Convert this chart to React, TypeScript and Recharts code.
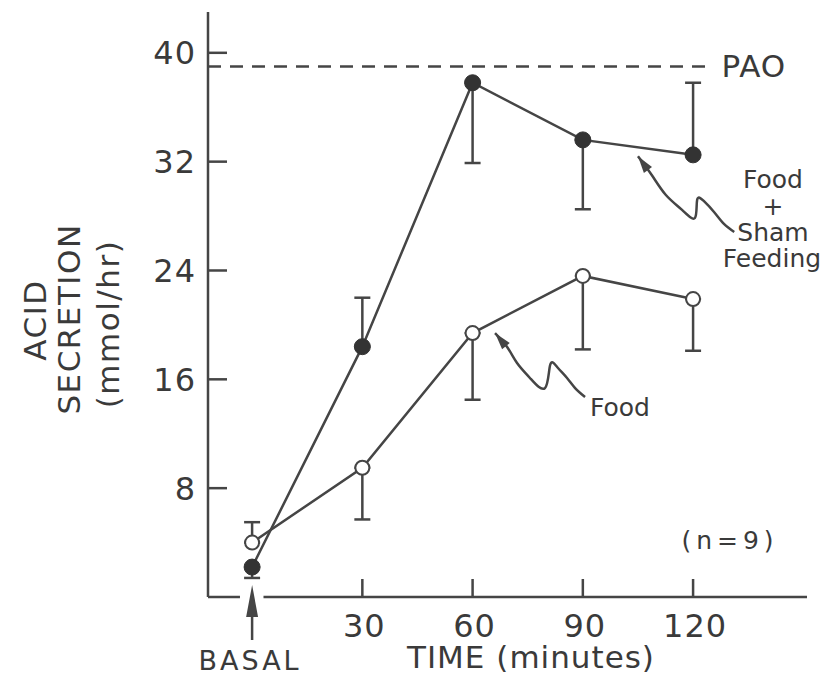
import {
  ComposedChart,
  Line,
  XAxis,
  YAxis,
  ErrorBar,
  ReferenceLine,
  ReferenceDot,
} from "recharts";

const FONT = '"DejaVu Sans", sans-serif';
const INK = "#3a3a3a";
const LINE = "#454545";

// time points (0 = basal)
const timeMin = [0, 30, 60, 90, 120];

// food + sham feeding (filled dots)
const shamFeeding = [2.2, 18.4, 37.8, 33.6, 32.5];
const shamLow = [0.8, 0, 5.9, 5.1, 0];
const shamHigh = [0, 3.6, 0, 0, 5.3];

// food only (open dots)
const foodOnly = [4.0, 9.5, 19.4, 23.6, 21.9];
const foodLow = [0, 3.8, 4.9, 5.4, 3.8];
const foodHigh = [1.5, 0, 0, 0, 0];

const xTicks = [0, 30, 60, 90, 120];
const yTicks = [8, 16, 24, 32, 40];
const PAO = 39;

// squiggly pointer arrows, in data units
const shamArrowT = [105.0, 108.8, 112.6, 117.0, 120.5, 121.1, 122.9, 125.7, 128.4, 131.2];
const shamArrowV = [32.4, 31.0, 29.55, 28.45, 27.86, 29.18, 29.11, 28.3, 27.42, 26.83];
const foodArrowT = [66.1, 69.4, 72.1, 75.6, 79.7, 81.1, 83.0, 85.7, 87.9, 90.6];
const foodArrowV = [19.4, 18.38, 17.2, 16.1, 15.36, 17.05, 16.91, 16.1, 15.36, 14.7];

const rows = timeMin.map((t, i) => ({
  t,
  sham: shamFeeding[i],
  shamErr: [shamLow[i], shamHigh[i]],
  food: foodOnly[i],
  foodErr: [foodLow[i], foodHigh[i]],
}));

const shamArrow = shamArrowT.map((t, i) => ({ t, v: shamArrowV[i] }));
const foodArrow = foodArrowT.map((t, i) => ({ t, v: foodArrowV[i] }));

function XTick(props: any) {
  const { x, y, payload } = props;
  if (payload.value === 0) {
    return (
      <g>
        <line x1={x} y1={y + 12} x2={x} y2={y + 43} stroke={LINE} strokeWidth={2.5} />
        <polygon points={`${x},${y - 12} ${x - 6},${y + 20} ${x + 6},${y + 20}`} fill={LINE} />
        <text x={x - 2} y={y + 73} textAnchor="middle" fontSize={27} letterSpacing={3} fill={INK} fontFamily={FONT}>
          BASAL
        </text>
      </g>
    );
  }
  return (
    <g>
      <line x1={x} y1={y} x2={x} y2={y - 18} stroke={LINE} strokeWidth={2.5} />
      <text x={x + 2} y={y + 40} textAnchor="middle" fontSize={32} letterSpacing={1} fill={INK} fontFamily={FONT}>
        {payload.value}
      </text>
    </g>
  );
}

function YTick(props: any) {
  const { x, y, payload } = props;
  return (
    <g>
      <line x1={x} y1={y} x2={x + 19} y2={y} stroke={LINE} strokeWidth={2.5} />
      <text x={x - 12} y={y} dy="0.36em" textAnchor="end" fontSize={32} letterSpacing={1} fill={INK} fontFamily={FONT}>
        {payload.value}
      </text>
    </g>
  );
}

function arrowHead(angle: number) {
  return (props: any) => {
    const { cx, cy } = props;
    return (
      <polygon
        points={`${cx},${cy} ${cx - 17},${cy - 5} ${cx - 17},${cy + 5}`}
        fill={LINE}
        transform={`rotate(${angle} ${cx} ${cy})`}
      />
    );
  };
}

export default function App() {
  return (
    <div style={{ position: "relative", width: 821, height: 674, background: "#fff" }}>
      <style>{"body{margin:0}"}</style>
      <ComposedChart width={821} height={674} data={rows} margin={{ top: 12, right: 14, bottom: 0, left: 0 }}>
        <XAxis
          dataKey="t"
          type="number"
          domain={[-12, 151]}
          ticks={xTicks}
          interval={0}
          allowDataOverflow
          axisLine={false}
          tickLine={false}
          tickSize={0}
          tickMargin={0}
          height={77}
          tick={XTick}
        />
        <YAxis
          type="number"
          domain={[0, 43]}
          ticks={yTicks}
          interval={0}
          allowDataOverflow
          width={208}
          axisLine={{ stroke: LINE, strokeWidth: 2.5 }}
          tickLine={false}
          tickSize={0}
          tickMargin={0}
          tick={YTick}
        />

        {/* broken x axis around the basal arrow */}
        <ReferenceLine segment={[{ x: -12, y: 0 }, { x: -3.3, y: 0 }]} stroke={LINE} strokeWidth={2.5} />
        <ReferenceLine segment={[{ x: 3.1, y: 0 }, { x: 151, y: 0 }]} stroke={LINE} strokeWidth={2.5} />

        <ReferenceLine
          segment={[{ x: -12, y: PAO }, { x: 125, y: PAO }]}
          stroke={LINE}
          strokeWidth={2.5}
          strokeDasharray="13 9"
          label={{ value: "PAO", position: "right", offset: 10, fill: INK, fontSize: 31, fontFamily: FONT, letterSpacing: 1 }}
        />

        <Line
          data={foodArrow}
          dataKey="v"
          type="natural"
          stroke={LINE}
          strokeWidth={2.5}
          dot={false}
          activeDot={false}
          isAnimationActive={false}
        />
        <Line
          data={shamArrow}
          dataKey="v"
          type="natural"
          stroke={LINE}
          strokeWidth={2.5}
          dot={false}
          activeDot={false}
          isAnimationActive={false}
        />
        <ReferenceDot x={foodArrowT[0]} y={foodArrowV[0]} shape={arrowHead(-130)} />
        <ReferenceDot x={shamArrowT[0]} y={shamArrowV[0]} shape={arrowHead(-126)} />

        <Line
          dataKey="food"
          type="linear"
          stroke={LINE}
          strokeWidth={2.5}
          dot={{ r: 7, fill: "#fff", stroke: LINE, strokeWidth: 2 }}
          activeDot={false}
          isAnimationActive={false}
        >
          <ErrorBar dataKey="foodErr" direction="y" width={8} stroke={LINE} strokeWidth={2.5} />
        </Line>
        <Line
          dataKey="sham"
          type="linear"
          stroke={LINE}
          strokeWidth={2.5}
          dot={{ r: 8, fill: "#333", stroke: "#333", strokeWidth: 1 }}
          activeDot={false}
          isAnimationActive={false}
        >
          <ErrorBar dataKey="shamErr" direction="y" width={8} stroke={LINE} strokeWidth={2.5} />
        </Line>
      </ComposedChart>

      <svg
        width={821}
        height={674}
        style={{ position: "absolute", left: 0, top: 0, pointerEvents: "none" }}
        fontFamily={FONT}
        fill={INK}
      >
        <g textAnchor="middle" fontSize={31} letterSpacing={1.5}>
          <text x={35} y={320} dy="0.36em" transform="rotate(-90 35 320)">ACID</text>
          <text x={69} y={319} dy="0.36em" transform="rotate(-90 69 319)">SECRETION</text>
          <text x={108} y={324} dy="0.36em" transform="rotate(-90 108 324)">(mmol/hr)</text>
        </g>
        <text x={531} y={668} textAnchor="middle" fontSize={31} letterSpacing={1}>
          TIME (minutes)
        </text>
        <text x={730} y={540} dy="0.36em" textAnchor="middle" fontSize={25} letterSpacing={5}>
          (n=9)
        </text>
        <g textAnchor="middle" fontSize={25}>
          <text x={773} y={179} dy="0.36em">Food</text>
          <text x={773} y={206} dy="0.36em">+</text>
          <text x={773} y={232} dy="0.36em">Sham</text>
          <text x={772} y={258} dy="0.36em">Feeding</text>
        </g>
        <text x={590} y={407} dy="0.36em" fontSize={25}>
          Food
        </text>
      </svg>
    </div>
  );
}
